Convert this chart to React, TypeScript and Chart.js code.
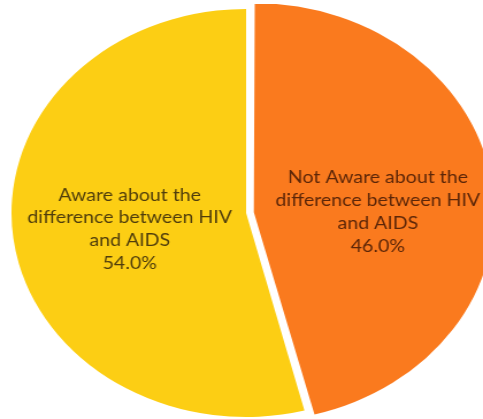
import React, { useEffect, useRef } from "react";
import { Chart, registerables } from "chart.js";

Chart.register(...registerables);

const categories = [
  "Aware about the difference between HIV and AIDS",
  "Not Aware about the difference between HIV and AIDS",
];
const labelLines = [
  ["Aware about the", "difference between HIV", "and AIDS"],
  ["Not Aware about the", "difference between HIV", "and AIDS"],
];
const values = [54.0, 46.0];

const COLORS = ["#FCCE14", "#FA7A1E"];
const TEXT_COLORS = ["#4f3d0c", "#5c2608"];
const OFFSETS = [0, 27];
const LABEL_SHIFT = [
  [0, 3.5],
  [0, 13.5],
];
const SCALE_X = 1.15;

const labelPlugin = {
  id: "sliceLabels",
  afterDatasetsDraw(chart: any) {
    const ctx = chart.ctx;
    const meta = chart.getDatasetMeta(0);
    const total = values.reduce((a, b) => a + b, 0);
    ctx.save();
    ctx.font = "17px Lato";
    ctx.textAlign = "center";
    ctx.textBaseline = "middle";
    meta.data.forEach((arc: any, i: number) => {
      const p = arc.getCenterPoint();
      const lines = [...labelLines[i], ((values[i] / total) * 100).toFixed(1) + "%"];
      const lh = 22.7;
      const x = p.x + LABEL_SHIFT[i][0];
      const y0 = p.y + LABEL_SHIFT[i][1] - ((lines.length - 1) * lh) / 2;
      ctx.fillStyle = TEXT_COLORS[i];
      lines.forEach((t, j) => ctx.fillText(t, x, y0 + j * lh));
    });
    ctx.restore();
  },
};

export default function App() {
  const ref = useRef<HTMLCanvasElement>(null);
  useEffect(() => {
    if (!ref.current) return;
    const total = values.reduce((a, b) => a + b, 0);
    const chart = new Chart(ref.current, {
      type: "pie",
      data: {
        labels: categories,
        datasets: [
          {
            data: values,
            backgroundColor: COLORS,
            borderWidth: 0,
            offset: OFFSETS,
            radius: 204,
          },
        ],
      },
      options: {
        responsive: false,
        devicePixelRatio: 1,
        animation: false,
        rotation: (values[1] / total) * 360,
        layout: { padding: { left: 0, right: 12, top: 0, bottom: 4 } },
        plugins: {
          legend: { display: false },
          tooltip: { enabled: false },
        },
      },
      plugins: [labelPlugin],
    });
    return () => chart.destroy();
  }, []);
  return (
    <div
      style={{
        position: "fixed",
        left: 0,
        top: 0,
        width: 483,
        height: 419,
        overflow: "hidden",
        background: "#fff",
      }}
    >
      <canvas
        ref={ref}
        width={440}
        height={430}
        style={{
          width: 440,
          height: 430,
          transform: `scaleX(${SCALE_X})`,
          transformOrigin: "0 0",
        }}
      />
    </div>
  );
}
